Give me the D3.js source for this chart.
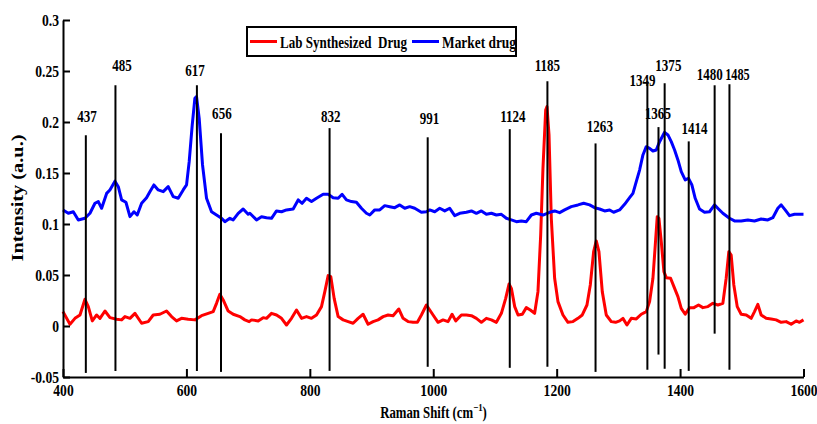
<!DOCTYPE html>
<html>
<head>
<meta charset="utf-8">
<script src="https://cdn.jsdelivr.net/npm/d3@7"></script>
<style>
  body { margin: 0; background: #fff; }
  svg { display: block; }
  text { font-family: "Liberation Serif", "Times New Roman", serif; font-weight: bold; fill: #000; }
</style>
</head>
<body>
<svg id="chart"></svg>
<script>
let width = 817;
let height = 424;
let margin = { top: 20, right: 13, bottom: 47, left: 63 };

// Raman shift (cm-1) and intensity of the lab synthesized sample
const labShift = [400, 411.3, 419.4, 427.5, 435.6, 441, 447.5, 454.5, 459.9, 468, 476.1, 486.9, 495, 500.4, 508.5, 516.6, 527.4, 538.1, 546.2, 557, 567.8, 575.9, 584, 592.1, 602.9, 613.7, 624.5, 635.3, 643.4, 648.8, 654.2, 659.6, 667.7, 675.8, 686.6, 694.7, 701.7, 705.5, 716.3, 724.4, 729.8, 737.9, 746, 754.1, 762.2, 770.3, 778.4, 786.5, 794.6, 802.7, 810.8, 818.9, 824.3, 829.7, 834, 839.4, 845.9, 854, 862.1, 870.1, 878.2, 886.3, 894.4, 902.5, 910.6, 918.8, 926.8, 934.9, 944.1, 951.1, 959.2, 967.3, 974.3, 980.8, 988.9, 994.3, 999.7, 1007.8, 1015.9, 1024, 1030.5, 1036.4, 1045.6, 1053.7, 1061.8, 1069.9, 1078, 1086.1, 1094.2, 1102.3, 1110.4, 1117.4, 1122.8, 1126.6, 1132, 1137.4, 1144.4, 1150.8, 1157.3, 1164.3, 1169.7, 1174.1, 1177.8, 1182.2, 1184.3, 1187.6, 1191.3, 1196.7, 1202.1, 1210.2, 1218.3, 1226.4, 1234.5, 1241.5, 1249.1, 1254.5, 1259.9, 1264.2, 1268.5, 1273.9, 1280.4, 1288.5, 1295.5, 1302, 1307.4, 1313.9, 1320.9, 1329, 1337.1, 1345.2, 1350.6, 1356, 1359.8, 1363, 1365.7, 1369.5, 1373.8, 1377.6, 1384.6, 1390, 1396.5, 1401.9, 1408.3, 1415.4, 1422.4, 1429.9, 1437, 1445.1, 1453.1, 1461.2, 1469.3, 1474.7, 1479, 1482.8, 1487.1, 1492.6, 1499, 1507.2, 1515.2, 1520.6, 1526, 1531.4, 1539.5, 1547.6, 1555.7, 1563.8, 1571.9, 1580, 1588.1, 1593.5, 1600];
const labIntensity = [0.0141, 0.0017, 0.0075, 0.0108, 0.0262, 0.019, 0.005, 0.0108, 0.0075, 0.0147, 0.0082, 0.0066, 0.006, 0.0092, 0.0075, 0.0124, 0.0027, 0.0043, 0.0108, 0.0115, 0.0147, 0.0092, 0.005, 0.0075, 0.0066, 0.006, 0.0101, 0.0124, 0.0141, 0.0222, 0.0311, 0.0255, 0.0147, 0.0115, 0.0092, 0.006, 0.0043, 0.006, 0.005, 0.0082, 0.0075, 0.0124, 0.0108, 0.0075, 0.001, 0.0075, 0.0157, 0.0075, 0.0092, 0.0075, 0.0108, 0.019, 0.0337, 0.0494, 0.0484, 0.0271, 0.0092, 0.006, 0.0043, 0.0027, 0.0075, 0.0115, 0.0017, 0.0043, 0.006, 0.0092, 0.0108, 0.0101, 0.0167, 0.0075, 0.0043, 0.0036, 0.0036, 0.0108, 0.0206, 0.0157, 0.0108, 0.0036, 0.006, 0.0043, 0.0115, 0.005, 0.0108, 0.0108, 0.0101, 0.0075, 0.0036, 0.0075, 0.006, 0.0036, 0.0124, 0.0271, 0.0412, 0.0369, 0.019, 0.0108, 0.0115, 0.018, 0.0157, 0.0124, 0.0337, 0.0892, 0.1546, 0.2118, 0.2151, 0.1873, 0.1056, 0.0468, 0.0239, 0.0108, 0.0036, 0.0043, 0.0075, 0.0108, 0.0206, 0.0402, 0.0729, 0.0834, 0.0729, 0.0337, 0.0108, 0.0043, 0.0036, 0.005, 0.0075, 0.001, 0.0075, 0.0069, 0.0115, 0.0141, 0.0239, 0.0468, 0.0794, 0.1072, 0.1056, 0.0827, 0.0533, 0.0474, 0.0468, 0.0386, 0.0288, 0.0173, 0.0115, 0.018, 0.018, 0.0206, 0.018, 0.019, 0.0222, 0.0206, 0.0222, 0.0468, 0.0729, 0.0696, 0.0402, 0.019, 0.0115, 0.0108, 0.0075, 0.0141, 0.0212, 0.0108, 0.0075, 0.0069, 0.006, 0.0036, 0.0043, 0.0017, 0.005, 0.0036, 0.006];

// Raman shift (cm-1) and intensity of the market drug
const marketShift = [400, 408.6, 416.7, 424.8, 435.6, 443.7, 451.8, 457.2, 462.6, 470.7, 476, 484.2, 489.6, 495, 502, 508.5, 515, 520.3, 527.4, 535.4, 540.8, 547.3, 554.3, 562.4, 570.5, 578.6, 586.7, 594.8, 600.2, 604.5, 609.4, 613.7, 616.4, 620.7, 626.1, 632.6, 640.7, 648.8, 656.9, 662.3, 670.4, 675.8, 683.9, 692, 700, 702.8, 713.6, 721.7, 729.8, 737.9, 746, 754.1, 762.2, 773, 781.1, 787.5, 794.6, 802.7, 810.8, 821.6, 829.7, 837.8, 845.9, 852.3, 859.3, 867.4, 875.5, 883.6, 891.7, 897.1, 905.2, 913.3, 921.4, 929.5, 937.6, 945.7, 953.8, 961.9, 970, 980.8, 988.9, 994.3, 1002.4, 1010.5, 1018.6, 1026.7, 1034.8, 1042.9, 1053.7, 1061.8, 1069.9, 1078, 1086.1, 1094.2, 1102.3, 1110.4, 1118.5, 1126.6, 1134.7, 1142.7, 1150.8, 1159, 1167, 1177.8, 1188.6, 1196.7, 1204.8, 1212.9, 1223.7, 1234.5, 1243.7, 1253.4, 1261.5, 1269.6, 1277.7, 1285.8, 1292.3, 1302, 1310.1, 1318.2, 1323.6, 1329, 1334.4, 1339.8, 1345.2, 1350.6, 1356, 1361.4, 1366.8, 1374.9, 1380.3, 1385.7, 1391.1, 1396.5, 1401.9, 1408.3, 1413.7, 1419.1, 1424.5, 1431.5, 1439.6, 1447.7, 1455.8, 1462.3, 1469.3, 1480.1, 1488.2, 1499, 1509.8, 1520.6, 1531.4, 1542.2, 1550.3, 1558.4, 1563.8, 1570.3, 1577.3, 1585.4, 1593.5, 1600];
const marketIntensity = [0.1138, 0.1105, 0.112, 0.104, 0.1056, 0.1105, 0.1203, 0.122, 0.1154, 0.13, 0.1334, 0.142, 0.1366, 0.1236, 0.1213, 0.1072, 0.112, 0.1088, 0.1203, 0.1258, 0.1317, 0.1383, 0.1334, 0.1317, 0.1366, 0.1268, 0.1252, 0.1334, 0.1383, 0.1611, 0.197, 0.2232, 0.2249, 0.2036, 0.1579, 0.1252, 0.112, 0.1088, 0.1056, 0.1023, 0.1056, 0.104, 0.1105, 0.1147, 0.1095, 0.1105, 0.104, 0.1072, 0.1062, 0.1056, 0.1128, 0.112, 0.1138, 0.1147, 0.1236, 0.1203, 0.1252, 0.122, 0.1252, 0.1291, 0.1291, 0.1258, 0.1252, 0.1291, 0.1236, 0.122, 0.1213, 0.1154, 0.1105, 0.1088, 0.1138, 0.1138, 0.118, 0.117, 0.116, 0.1187, 0.1154, 0.117, 0.1154, 0.1115, 0.112, 0.1138, 0.112, 0.1154, 0.1128, 0.1154, 0.1082, 0.1105, 0.1115, 0.1128, 0.1105, 0.1128, 0.1095, 0.1105, 0.1088, 0.1095, 0.1056, 0.104, 0.1023, 0.103, 0.1023, 0.1088, 0.1105, 0.1088, 0.1115, 0.1128, 0.1111, 0.1138, 0.117, 0.1187, 0.1203, 0.1187, 0.116, 0.1147, 0.1128, 0.1138, 0.1115, 0.1138, 0.1193, 0.1258, 0.13, 0.1415, 0.1529, 0.1677, 0.1758, 0.1742, 0.1716, 0.1726, 0.1807, 0.1899, 0.1873, 0.1807, 0.1726, 0.1628, 0.1513, 0.1432, 0.1448, 0.1383, 0.1252, 0.1147, 0.1115, 0.112, 0.1187, 0.1147, 0.1105, 0.1056, 0.103, 0.103, 0.104, 0.103, 0.1049, 0.104, 0.1062, 0.1154, 0.1187, 0.1138, 0.1082, 0.1095, 0.1095, 0.1095];

// marked peaks: line position, line extent, printed label and where it sits
const peakShift = [437, 485, 617, 656, 832, 991, 1124, 1185, 1263, 1347, 1365, 1375, 1414, 1456, 1480];
const peakTop = [0.187, 0.236, 0.236, 0.189, 0.194, 0.185, 0.193, 0.24, 0.179, 0.24, 0.195, 0.238, 0.181, 0.236, 0.237];
const peakBottom = [-0.046, -0.044, -0.044, -0.045, -0.044, -0.04, -0.041, -0.04, -0.045, -0.043, -0.028, -0.042, -0.044, -0.0075, -0.043];
const peakLabels = ["437", "485", "617", "656", "832", "991", "1124", "1185", "1263", "1349", "1365", "1375", "1414", "1480", "1485"];
const peakLabelShift = [439, 495.5, 614, 657.5, 834, 994, 1129, 1185, 1270, 1339, 1364, 1381, 1423.5, 1448, 1493];
const peakLabelIntensity = [0.2, 0.25, 0.245, 0.203, 0.2, 0.198, 0.2, 0.25, 0.19, 0.235, 0.203, 0.25, 0.188, 0.241, 0.241];

const xTicks = [400, 600, 800, 1000, 1200, 1400, 1600];
const yTicks = [-0.05, 0, 0.05, 0.1, 0.15, 0.2, 0.25, 0.3];
const yTickLabels = ["-0.05", "0", "0.05", "0.1", "0.15", "0.2", "0.25", "0.3"];

const seriesNames = ["Lab Synthesized  Drug", "Market drug"];
const seriesColors = ["#ff0000", "#0000ff"];

let svg = d3.select("svg#chart").attr("width", width).attr("height", height);

let xScale = d3.scaleLinear().domain([400, 1600]).range([margin.left, width - margin.right - 0.5]);
let yScale = d3.scaleLinear().domain([-0.05, 0.3]).range([height - margin.bottom, margin.top]);

const squeeze = 0.8;

drawSpectra();
drawPeaks();
drawAxes();
drawLegend();

function drawSpectra() {
  let line = d3
    .line()
    .x((d) => xScale(d[0]))
    .y((d) => yScale(d[1]));

  let lab = labShift.map((s, i) => [s, labIntensity[i]]);
  let market = marketShift.map((s, i) => [s, marketIntensity[i]]);

  [lab, market].forEach((pts, i) => {
    svg
      .append("path")
      .datum(pts)
      .attr("d", line)
      .attr("fill", "none")
      .attr("stroke", seriesColors[i])
      .attr("stroke-width", 3)
      .attr("stroke-linejoin", "round");
  });
}

function drawPeaks() {
  let g = svg.append("g");

  g.selectAll("line")
    .data(peakShift)
    .join("line")
    .attr("x1", (d) => xScale(d))
    .attr("x2", (d) => xScale(d))
    .attr("y1", (d, i) => yScale(peakBottom[i]))
    .attr("y2", (d, i) => yScale(peakTop[i]))
    .attr("stroke", "#000")
    .attr("stroke-width", 2);

  g.selectAll("text")
    .data(peakLabels)
    .join("text")
    .attr("transform", (d, i) =>
      `translate(${xScale(peakLabelShift[i])}, ${yScale(peakLabelIntensity[i])}) scale(${squeeze * 0.96}, 1)`)
    .attr("text-anchor", "middle")
    .style("font-size", (d, i) => (i === peakLabels.length - 1 ? "16px" : "17px"))
    .text((d) => d);
}

function drawAxes() {
  let xAxis = d3
    .axisBottom(xScale)
    .tickValues(xTicks)
    .tickFormat(d3.format("d"))
    .tickSizeInner(-8)
    .tickSizeOuter(0)
    .tickPadding(7);
  let yAxis = d3
    .axisLeft(yScale)
    .tickValues(yTicks)
    .tickFormat((d, i) => yTickLabels[i])
    .tickSizeInner(-7)
    .tickSizeOuter(0)
    .tickPadding(4);

  svg
    .append("g")
    .attr("transform", `translate(0, ${height - margin.bottom})`)
    .call(xAxis)
    .call((g) => g.selectAll("path, line").attr("stroke", "#000").attr("stroke-width", 2))
    .call((g) =>
      g.selectAll("text")
        .attr("fill", "#000")
        .style("font-size", "17px")
        .attr("transform", `scale(${squeeze}, 1)`)
    );

  svg
    .append("g")
    .attr("transform", `translate(${margin.left}, 0)`)
    .call(yAxis)
    .call((g) => g.selectAll("path, line").attr("stroke", "#000").attr("stroke-width", 2))
    .call((g) =>
      g.selectAll("text")
        .attr("fill", "#000")
        .style("font-size", "17px")
        .attr("x", -4 / squeeze)
        .attr("transform", `scale(${squeeze}, 1)`)
    );

  // axis titles
  let xTitle = svg
    .append("text")
    .attr("transform", `translate(${(margin.left + width - margin.right) / 2}, ${height - 6}) scale(${squeeze}, 1)`)
    .attr("text-anchor", "middle")
    .style("font-size", "16px");
  xTitle.append("tspan").text("Raman Shift (cm");
  xTitle.append("tspan").attr("dy", -7).style("font-size", "11px").text("\u22121");
  xTitle.append("tspan").attr("dy", 7).text(")");

  svg
    .append("text")
    .attr("transform", `translate(23, ${(margin.top + height - margin.bottom) / 2}) rotate(-90)`)
    .attr("x", -63)
    .attr("textLength", 127)
    .attr("lengthAdjust", "spacingAndGlyphs")
    .style("font-size", "17px")
    .text("Intensity (a.u.)");
}

function drawLegend() {
  let g = svg.append("g").attr("transform", "translate(247, 27)");

  g.append("rect")
    .attr("width", 269)
    .attr("height", 29)
    .attr("fill", "#fff")
    .attr("stroke", "#000")
    .attr("stroke-width", 2);

  let itemX = [3, 165];
  let itemW = [127, 74];

  seriesNames.forEach((name, i) => {
    g.append("line")
      .attr("x1", itemX[i])
      .attr("x2", itemX[i] + 27)
      .attr("y1", 14.5)
      .attr("y2", 14.5)
      .attr("stroke", seriesColors[i])
      .attr("stroke-width", 3);

    g.append("text")
      .attr("x", itemX[i] + 30)
      .attr("y", 20.5)
      .attr("textLength", itemW[i])
      .attr("lengthAdjust", "spacingAndGlyphs")
      .style("font-size", "17px")
      .style("white-space", "pre")
      .text(name);
  });
}
</script>
</body>
</html>
